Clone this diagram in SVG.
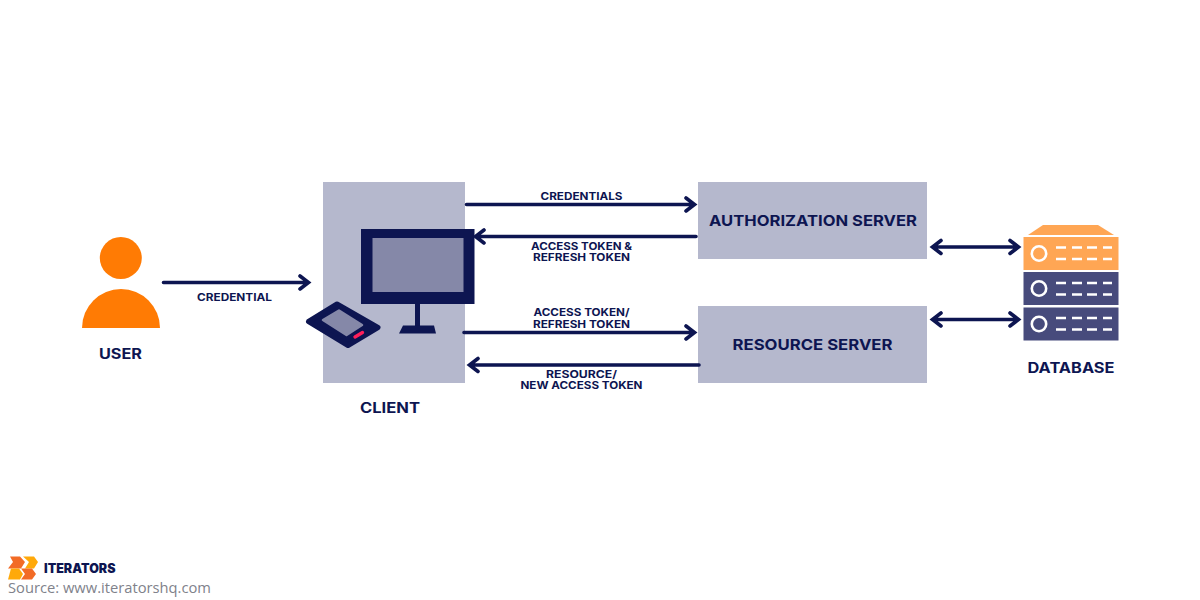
<svg xmlns="http://www.w3.org/2000/svg" width="1200" height="600" viewBox="0 0 1200 600">
<style>
.t{font-family:"Inter","Liberation Sans",sans-serif;font-weight:700;fill:#0d1551;text-anchor:middle}
.s{font-size:10.5px}
.m{font-size:14px}
.box{fill:#b5b8cd}
.ln{fill:none;stroke:#0d1551;stroke-width:3.6;stroke-linecap:round;stroke-linejoin:miter}
.dash{stroke:#fff;stroke-width:2.4;fill:none}
.ring{fill:none;stroke:#fff;stroke-width:2.6}
</style>
<defs>
<g id="dashes">
<path class="dash" d="M1056 0h10M1072 0h10M1087 0h10M1103 0h9M1056 11.500h10M1072 11.500h10M1087 11.500h10M1103 11.500h9"/>
</g>
</defs>
<rect width="1200" height="600" fill="#fff"/>
<g id="user">
<circle cx="120.800" cy="258" r="21" fill="#ff7b04"/>
<path d="M82 328a39 39 0 0 1 78 0z" fill="#ff7b04"/>
<text class="t m" x="120.500" y="359" textLength="43" lengthAdjust="spacingAndGlyphs">USER</text>
</g>
<g id="client">
<rect class="box" x="323" y="182" width="142" height="201"/>
<rect x="361" y="229" width="113.500" height="75" fill="#0d1551"/>
<rect x="372.500" y="238" width="91" height="54" fill="#8588a8"/>
<rect x="415" y="304" width="5" height="22" fill="#0d1551"/>
<path d="M403 325.500H434L436 333.500H399z" fill="#0d1551"/>
<path d="M308.500 321.500L337 304L378 327.500L348 345.500z" fill="#0d1551" stroke="#0d1551" stroke-width="5" stroke-linejoin="round"/>
<path d="M323 320L339 310.500L362 325L346.500 335z" fill="#8588a8" stroke="#8588a8" stroke-width="2.500" stroke-linejoin="round"/>
<path d="M355 337L362.500 332.500" stroke="#ff1f5a" stroke-width="3.400" stroke-linecap="round" fill="none"/>
<text class="t m" x="390" y="413" textLength="60" lengthAdjust="spacingAndGlyphs">CLIENT</text>
</g>
<g id="auth-server">
<rect class="box" x="698" y="182" width="229" height="77"/>
<text class="t" font-size="15" x="813" y="226" textLength="208" lengthAdjust="spacingAndGlyphs">AUTHORIZATION SERVER</text>
</g>
<g id="resource-server">
<rect class="box" x="698" y="306" width="229" height="77"/>
<text class="t" font-size="15" x="812.500" y="350" textLength="160" lengthAdjust="spacingAndGlyphs">RESOURCE SERVER</text>
</g>
<g id="database">
<path d="M1028 235L1043 225H1098L1114 235z" fill="#ffa654"/>
<rect x="1023.500" y="237" width="95" height="33" fill="#ffa654"/>
<rect x="1023.500" y="272" width="95" height="33" fill="#474b7c"/>
<rect x="1023.500" y="307.500" width="95" height="33" fill="#474b7c"/>
<circle class="ring" cx="1039" cy="253.500" r="7.200"/>
<circle class="ring" cx="1039" cy="288.500" r="7.200"/>
<circle class="ring" cx="1039" cy="324" r="7.200"/>
<use href="#dashes" y="247.500"/>
<use href="#dashes" y="283"/>
<use href="#dashes" y="318"/>
<text class="t m" x="1071" y="373" textLength="87" lengthAdjust="spacingAndGlyphs">DATABASE</text>
</g>
<g id="connectors">
<path class="ln" d="M163.500 282.500H308M300 276L308.500 282.500L300 289"/>
<path class="ln" d="M466.500 204.500H694M686 198L694.500 204.500L686 211"/>
<path class="ln" d="M696 236.500H476M484 230L475.500 236.500L484 243"/>
<path class="ln" d="M464 332.500H694M686 326L694.500 332.500L686 339"/>
<path class="ln" d="M699 365H470M478 358.500L469.500 365L478 371.500"/>
<path class="ln" d="M934 247H1018M941 240.500L932.500 247L941 253.500M1010 240.500L1018.500 247L1010 253.500"/>
<path class="ln" d="M934 319.500H1018M941 313L932.500 319.500L941 326M1010 313L1018.500 319.500L1010 326"/>
</g>
<g id="connector-labels">
<text class="t s" x="234.500" y="301" textLength="75" lengthAdjust="spacingAndGlyphs">CREDENTIAL</text>
<text class="t s" x="581.500" y="200" textLength="82" lengthAdjust="spacingAndGlyphs">CREDENTIALS</text>
<text class="t s" x="581.500" y="250" textLength="101" lengthAdjust="spacingAndGlyphs">ACCESS TOKEN &amp;</text>
<text class="t s" x="581.500" y="261" textLength="97" lengthAdjust="spacingAndGlyphs">REFRESH TOKEN</text>
<text class="t s" x="581.500" y="315.500" textLength="96" lengthAdjust="spacingAndGlyphs">ACCESS TOKEN/</text>
<text class="t s" x="581.500" y="328" textLength="97" lengthAdjust="spacingAndGlyphs">REFRESH TOKEN</text>
<text class="t s" x="581.500" y="378" textLength="71" lengthAdjust="spacingAndGlyphs">RESOURCE/</text>
<text class="t s" x="581.500" y="389" textLength="122" lengthAdjust="spacingAndGlyphs">NEW ACCESS TOKEN</text>
</g>
<g id="logo">
<path d="M10 556.500H20L25 562L21 568.500H8L13 562z" fill="#f26b26"/>
<path d="M23 556.500H34L38 562L34 568.500H25L29 562z" fill="#ffa90a"/>
<path d="M11 568.500H19L23 574L20 579.500H8z" fill="#ffa90a"/>
<path d="M21 568.500H32L36 574L32 579.500H21L25 574z" fill="#f26b26"/>
<text font-family="Inter,'Liberation Sans',sans-serif" font-weight="900" font-size="12.500" fill="#0d1551" x="44" y="572.500" textLength="71.500" lengthAdjust="spacingAndGlyphs">ITERATORS</text>
<text font-family="'Open Sans','Liberation Sans',sans-serif" font-size="14.500" fill="#80828b" x="8" y="593" textLength="203" lengthAdjust="spacingAndGlyphs">Source: www.iteratorshq.com</text>
</g>
</svg>
